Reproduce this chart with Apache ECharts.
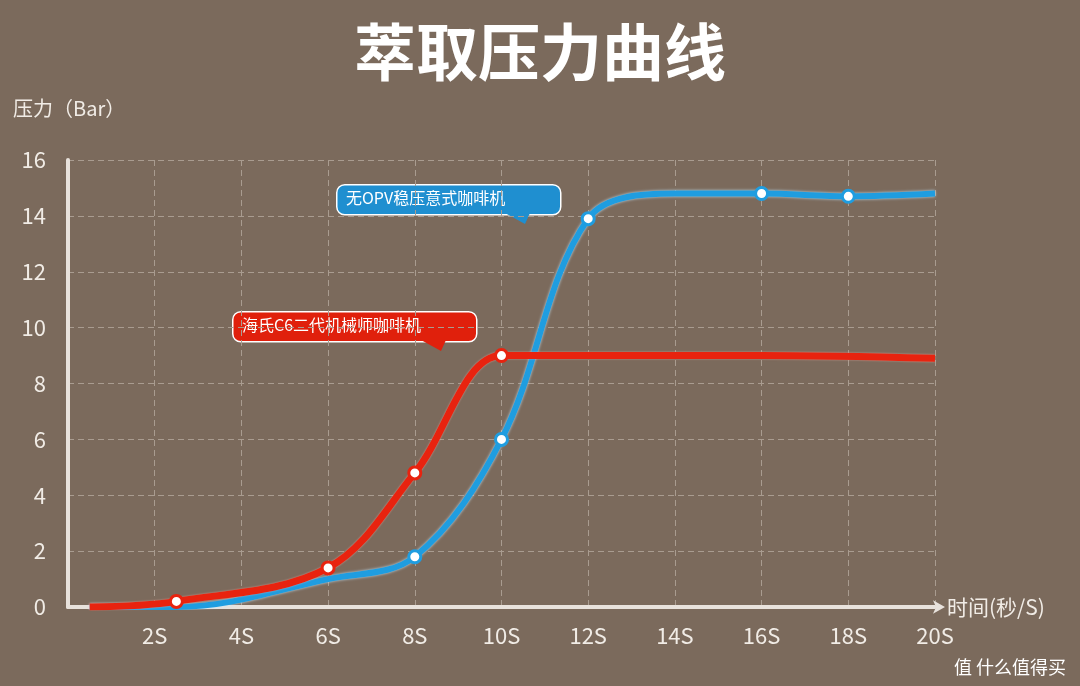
<html><head><meta charset="utf-8">
<script src="https://cdn.jsdelivr.net/npm/echarts@6/dist/echarts.min.js"></script>
<style>html,body{margin:0;background:#7b6a5c}#c{width:1080px;height:686px}</style></head>
<body><div id="c"></div><script>
const xTicks = [2, 4, 6, 8, 10, 12, 14, 16, 18, 20]
const blueT = [0.5, 2.5, 6, 8, 10, 12, 14, 16, 18, 20]
const blueV = [0, 0, 1, 1.8, 6, 13.9, 14.8, 14.8, 14.7, 14.8]
const blueMarks = [3, 4, 5, 7, 8]
const redT = [0.5, 2.5, 6, 8, 10, 12, 16, 20]
const redV = [0, 0.2, 1.4, 4.8, 9, 9, 9, 8.9]
const redMarks = [1, 2, 3, 4]

const mk = (t, v, marks, color) => t.map((x, i) => ({
  value: [x, v[i]],
  symbol: marks.includes(i) ? 'circle' : 'none',
  itemStyle: { color: '#fff', borderColor: color, borderWidth: 3 },
}))

const chart = echarts.init(document.getElementById('c'))
const txt = '#f1ece6'
const callout = (x, y, w, label, color) => ([
  { type: 'rect', left: x, top: y, shape: { width: w, height: 30, r: 8 },
    style: { fill: color, stroke: '#fff', lineWidth: 1.5 } },
  { type: 'polygon', shape: { points: [[x + w - 55, y + 29], [x + w - 30, y + 29], [x + w - 35, y + 40]] },
    style: { fill: color } },
  { type: 'text', left: x + 10, top: y + 6, style: { text: label, fill: '#fff', font: '16px "Noto Sans CJK SC"' } },
])

chart.setOption({
  backgroundColor: '#7b6a5c',
  title: { text: '萃取压力曲线', left: 'center', top: 16,
    textStyle: { color: '#fff', fontSize: 62, fontWeight: 'bold', fontFamily: 'Noto Sans CJK SC' } },
  grid: { left: 68, top: 160, width: 867, height: 447 },
  xAxis: {
    type: 'value', min: 0, max: 20, interval: 2,
    name: '时间(秒/S)', nameGap: 12,
    nameTextStyle: { color: txt, fontSize: 21, fontFamily: 'Noto Sans CJK SC', verticalAlign: 'middle' },
    axisLine: { lineStyle: { color: '#e8e2dc', width: 4 }, symbol: ['none', 'arrow'], symbolSize: [10, 12], symbolOffset: [0, 10] },
    axisTick: { show: false },
    axisLabel: { color: txt, fontSize: 22, margin: 18, fontFamily: 'Noto Sans CJK SC',
      formatter: v => xTicks.includes(v) ? v + 'S' : '' },
    splitLine: { show: true, lineStyle: { color: '#a99c90', type: [6, 4], width: 1 } },
  },
  yAxis: {
    type: 'value', min: 0, max: 16, interval: 2,
    name: '压力（Bar）', nameLocation: 'end', nameGap: 42,
    nameTextStyle: { color: txt, fontSize: 20, align: 'left', padding: [0, 0, 0, -55], fontFamily: 'Noto Sans CJK SC' },
    axisLine: { show: true, lineStyle: { color: '#e8e2dc', width: 4 } },
    axisTick: { show: false },
    axisLabel: { color: txt, fontSize: 22, margin: 22, fontFamily: 'Noto Sans CJK SC' },
    splitLine: { lineStyle: { color: '#a99c90', type: [6, 4], width: 1 } },
  },
  series: [
    { type: 'line', smooth: 0.35, data: mk(blueT, blueV, blueMarks, '#1f9de0'), symbolSize: 12,
      lineStyle: { color: '#1f9de0', width: 6, shadowColor: 'rgba(200,235,255,0.9)', shadowBlur: 3 }, z: 3 },
    { type: 'line', smooth: 0.35, data: mk(redT, redV, redMarks, '#e8230f'), symbolSize: 12,
      lineStyle: { color: '#e8230f', width: 7, shadowColor: 'rgba(255,180,170,0.7)', shadowBlur: 2 }, z: 4 },
  ],
  graphic: [
    ...callout(336, 184, 224, '无OPV稳压意式咖啡机', '#1f8fd0'),
    ...callout(232, 311, 244, '海氏C6二代机械师咖啡机', '#e0200c'),
    { type: 'text', right: 14, bottom: 10, style: { text: '值 什么值得买', fill: '#fff', font: '18px "Noto Sans CJK SC"' } },
  ],
})
</script></body></html>
